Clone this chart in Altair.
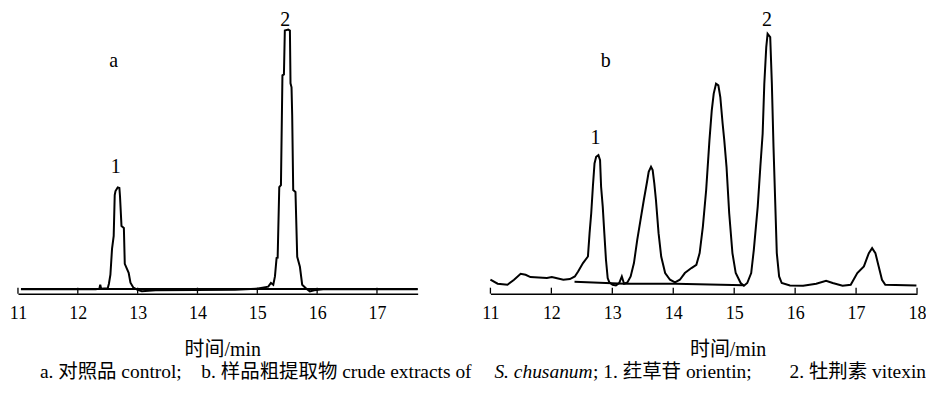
import altair as alt
import pandas as pd

# ---------------- data ----------------
# Panel a (reference standards)
A_TRACE_T = [11.05, 12.30, 12.36, 12.375, 12.39, 12.50, 12.52, 12.545, 12.572, 12.60,
             12.617, 12.63, 12.667, 12.695, 12.705, 12.73, 12.77, 12.785, 12.85, 12.88,
             12.93, 12.99, 13.07, 13.30, 14.63, 14.99, 15.183, 15.228, 15.267, 15.295,
             15.322, 15.34, 15.367, 15.395, 15.42, 15.445, 15.46, 15.517, 15.545, 15.555,
             15.572, 15.583, 15.60, 15.638, 15.667, 15.712, 15.75, 15.82, 15.878, 15.95,
             16.10, 17.68]
A_TRACE_V = [4.5, 4.5, 5, 9, 5, 5.5, 10, 19, 45, 58,
             99, 103, 106.5, 106, 98, 68, 66, 30, 21, 11,
             6, 4, 2.5, 3.5, 4, 5, 7, 10.7, 9, 17.3,
             35.7, 36, 107, 109, 219, 220, 264, 265, 264, 211,
             207, 179, 104, 102, 37, 27, 9, 5, 2.3, 3.5,
             4.5, 4.5]
A_FLAT_T = [11.05, 17.68]
A_FLAT_V = [4.7, 4.7]
A_TICKS = [11, 12, 13, 14, 15, 16, 17]
A_LABEL_TEXT = ["a", "1", "2"]
A_LABEL_T = [12.60, 12.633, 15.467]
A_LABEL_V = [243, 137, 285]

# Panel b (crude extract)
B_TRACE_T = [11.00, 11.118, 11.28, 11.388, 11.496, 11.577, 11.657, 11.927, 12.008, 12.196,
             12.304, 12.385, 12.439, 12.519, 12.60, 12.627, 12.654, 12.681, 12.708, 12.735,
             12.772, 12.799, 12.816, 12.843, 12.869, 12.896, 12.924, 12.951, 13.005, 13.059,
             13.113, 13.156, 13.193, 13.247, 13.301, 13.355, 13.409, 13.463, 13.517, 13.57,
             13.597, 13.635, 13.662, 13.689, 13.716, 13.759, 13.802, 13.867, 13.947, 14.028,
             14.109, 14.19, 14.298, 14.379, 14.433, 14.486, 14.54, 14.594, 14.632, 14.664,
             14.702, 14.74, 14.772, 14.81, 14.837, 14.874, 14.918, 14.971, 15.025, 15.106,
             15.16, 15.214, 15.279, 15.322, 15.386, 15.429, 15.467, 15.494, 15.526, 15.548,
             15.591, 15.618, 15.645, 15.672, 15.699, 15.737, 15.78, 15.915, 16.131, 16.346,
             16.508, 16.616, 16.778, 16.912, 17.02, 17.128, 17.209, 17.263, 17.317, 17.371,
             17.425, 17.479, 17.99]
B_TRACE_V = [14, 10, 9, 14, 20, 19, 16.7, 15.7, 16.7, 14,
             14.7, 17.3, 22.3, 30.7, 37.3, 60.7, 80.7, 107.3, 130.7, 137.3,
             139, 134, 107.3, 87.3, 60.7, 34, 15.7, 11.3, 9, 8.3,
             10.7, 17.3, 10, 11.3, 17.3, 30.7, 54, 74, 94, 112.3,
             122.3, 127.3, 124, 110.7, 94, 60.7, 37.3, 20.7, 14, 11.3,
             14, 20.7, 25.7, 29, 40.7, 67.3, 104, 154, 184, 200.7,
             210.7, 209, 197.3, 170.7, 154, 127.3, 80.7, 40.7, 20.7, 10.7,
             8, 10.7, 20.7, 44, 87.3, 127.3, 160.7, 210.7, 247.3, 260.7,
             257.3, 210.7, 147.3, 94, 40.7, 17.3, 10.7, 8.3, 8, 10,
             13, 10.7, 8, 9, 20.7, 27.3, 40.7, 45.7, 40.7, 27.3,
             14, 9, 8.3]
B_FLAT_T = [12.38, 13.2, 14.03, 15.16]
B_FLAT_V = [12, 10, 10, 8.5]
B_TICKS = [11, 12, 13, 14, 15, 16, 17, 18]
B_LABEL_TEXT = ["b", "1", "2"]
B_LABEL_T = [12.891, 12.725, 15.538]
B_LABEL_V = [243, 166, 285]

AXIS_TITLE = "时间/min"
CAPTION_1 = "a. 对照品 control;"
CAPTION_2 = "b. 样品粗提取物 crude extracts of"
CAPTION_3 = "S. chusanum"
CAPTION_4 = "; 1. 荭草苷 orientin;"
CAPTION_5 = "2. 牡荆素 vitexin"

# ---------------- style ----------------
FONT = "Liberation Serif, Noto Sans CJK SC, serif"
H = 286


def traces(trace_t, trace_v, flat_t, flat_v):
    return pd.concat([
        pd.DataFrame({"t": trace_t, "v": trace_v, "s": "trace"}),
        pd.DataFrame({"t": flat_t, "v": flat_v, "s": "flat"}),
    ], ignore_index=True)


def panel(trace_t, trace_v, flat_t, flat_v, ticks, lab_text, lab_t, lab_v,
          domain, width, title_x, extra=None):
    xscale = alt.Scale(domain=domain, nice=False, zero=False)
    yscale = alt.Scale(domain=[0, H], nice=False, zero=False)
    xaxis = alt.Axis(values=ticks, ticks=False, grid=False, labelPadding=11,
                     labelFont=FONT, labelFontSize=18, labelColor="black",
                     labelFlush=False, labelOverlap=False,
                     domainColor="black", domainWidth=1.5,
                     title=AXIS_TITLE, titleFont=FONT, titleFontSize=20,
                     titleFontWeight="normal", titleColor="black",
                     titleX=title_x, titleY=56, titleBaseline="middle",
                     titleAlign="center", format="d")
    lines = alt.Chart(traces(trace_t, trace_v, flat_t, flat_v)).mark_line(
        color="black", strokeWidth=2
    ).encode(
        x=alt.X("t:Q", scale=xscale, axis=xaxis),
        y=alt.Y("v:Q", scale=yscale, axis=None),
        detail="s:N",
        order=alt.Order("t:Q"),
    )
    tick_rules = alt.Chart(pd.DataFrame({"t": ticks})).mark_rule(
        color="black", strokeWidth=1.3
    ).encode(
        x=alt.X("t:Q", scale=xscale),
        y=alt.value(H),
        y2=alt.value(H - 6),
    )
    labels = alt.Chart(pd.DataFrame({"t": lab_t, "v": lab_v, "txt": lab_text})).mark_text(
        font=FONT, fontSize=20, color="black", align="center", baseline="top"
    ).encode(
        x=alt.X("t:Q", scale=xscale),
        y=alt.Y("v:Q", scale=yscale),
        text="txt:N",
    )
    layers = [lines, tick_rules, labels]
    if extra:
        layers += extra
    return alt.layer(*layers).properties(width=width, height=H)


def caption(text, x, italic=False, align="left"):
    return alt.Chart(alt.Data(values=[{"k": 0}])).mark_text(
        text=text, font=FONT, fontSize=19.5, color="black", align=align,
        baseline="middle", fontStyle="italic" if italic else "normal"
    ).encode(x=alt.value(x), y=alt.value(365))


caps = [
    caption(CAPTION_1, 41 - 19),
    caption(CAPTION_2, 203 - 19),
    caption(CAPTION_3, 497 - 19, italic=True),
    caption(CAPTION_4, 596 - 19),
    caption(CAPTION_5, 930 - 19, align="right"),
]

left = panel(A_TRACE_T, A_TRACE_V, A_FLAT_T, A_FLAT_V, A_TICKS,
             A_LABEL_TEXT, A_LABEL_T, A_LABEL_V, [11, 17.68], 401, 205, extra=caps)
right = panel(B_TRACE_T, B_TRACE_V, B_FLAT_T, B_FLAT_V, B_TICKS,
              B_LABEL_TEXT, B_LABEL_T, B_LABEL_V, [11, 18], 428, 238)

chart = alt.hconcat(left, right, spacing=73, bounds="flush").properties(
    padding={"left": 1, "top": 0, "right": 0, "bottom": 0}
).configure(background="white").configure_view(stroke=None)

chart.save("out.html", embed_options={"renderer": "svg", "actions": False})
